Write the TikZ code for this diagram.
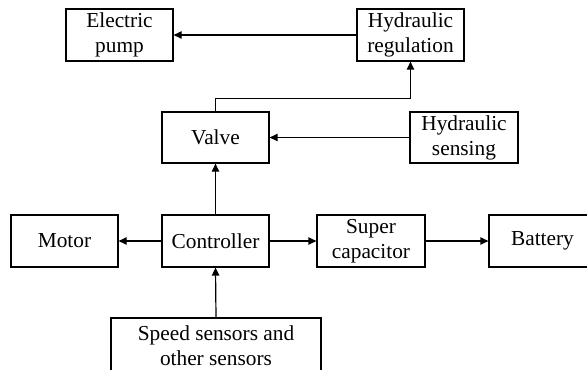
\documentclass[tikz,border=0pt]{standalone}
\usepackage{fontspec}
\setmainfont{Liberation Serif}
\usetikzlibrary{arrows.meta,positioning}

\begin{document}
\begin{tikzpicture}[
    x=0.75pt, y=-0.75pt,
    block/.style={draw=black, line width=0.9pt, fill=white, minimum width=80.25pt, minimum height=39pt, align=center, inner sep=1pt, font=\fontsize{16}{18.75}\selectfont},
    flow/.style={-{Triangle[length=6pt,width=5.5pt]}, line width=0.9pt}
]

% fixes the page to the reference frame, cuts the battery and sensor boxes
\clip (0,0) rectangle (587,369);

% top row
\node[block] (pump) at (119.5,35) {Electric\\pump};
\node[block] (hydreg) at (410.5,35) {Hydraulic\\regulation};

% valve row
\node[block, minimum height=38.25pt] (valve) at (215.5,137.5) {Valve};
\node[block, minimum width=81pt, minimum height=38.25pt] (hydsens) at (464,137.5) {Hydraulic\\sensing};

% main row
\node[block] (motor) at (64.5,241) {Motor};
\node[block] (ctrl) at (215.5,241) {Controller};
\node[block, minimum width=81pt] (supcap) at (371,241) {Super\\capacitor};
\node[block] (battery) at (542.5,241) {Battery};

% sensors, running off the bottom edge
\node[block, minimum width=157.5pt, minimum height=42pt] (sensors) at (216,346) {Speed sensors and\\other sensors};

% connectors
\draw[flow] (hydreg.west) -- (pump.east);
\draw[flow] (valve.north) -- ++(0,-13) -| (hydreg.south);
\draw[flow] (hydsens.west) -- (valve.east);
\draw[flow] (ctrl.north) -- (valve.south);
\draw[flow] (ctrl.west) -- (motor.east);
\draw[flow] (ctrl.east) -- (supcap.west);
\draw[flow] (supcap.east) -- (battery.west);
\draw[flow] (sensors.north) -- (ctrl.south);

\end{tikzpicture}
\end{document}
